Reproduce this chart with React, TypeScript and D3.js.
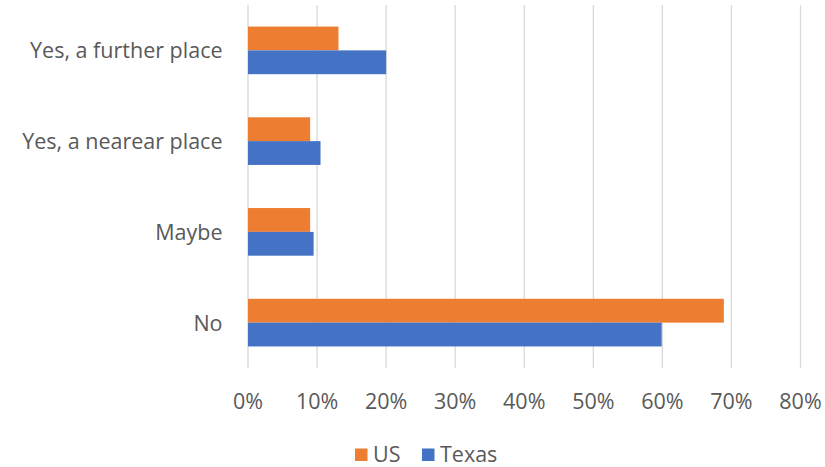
import React from "react";
import * as d3 from "d3";

const categories = ["Yes, a further place", "Yes, a nearear place", "Maybe", "No"];
const seriesNames = ["US", "Texas"];
const usValues = [0.131, 0.09, 0.09, 0.689];
const texasValues = [0.2, 0.105, 0.095, 0.599];
const xTicks = [0, 0.1, 0.2, 0.3, 0.4, 0.5, 0.6, 0.7, 0.8];
const colors = ["#ED7D31", "#4472C4"];

const W = 825;
const H = 467;
const left = 248;
const right = 800.5;
const top = 5;
const bottom = 368;
const font = "'Open Sans', 'Noto Sans', sans-serif";

export default function App() {
  const x = d3.scaleLinear().domain([0, 0.8]).range([left, right]);
  const y = d3.scaleBand<string>().domain(categories).range([top, bottom]).paddingInner(0.475).paddingOuter(0.2375);
  const inner = d3.scaleBand<string>().domain(seriesNames).range([0, y.bandwidth()]);
  const series = [usValues, texasValues];
  const fmt = d3.format(".0%");

  return (
    <svg width={W} height={H} style={{ position: "absolute", left: 0, top: 0, background: "#fff" }} fontFamily={font}>
      {xTicks.map((t) => (
        <line key={"g" + t} x1={x(t)} x2={x(t)} y1={top} y2={bottom} stroke="#D9D9D9" strokeWidth={1.3} />
      ))}
      {categories.map((c, i) =>
        seriesNames.map((s, j) => (
          <rect
            key={c + s}
            x={x(0)}
            y={(y(c) as number) + (inner(s) as number)}
            width={x(series[j][i]) - x(0)}
            height={inner.bandwidth()}
            fill={colors[j]}
          />
        ))
      )}
      {xTicks.map((t) => (
        <text key={"t" + t} x={x(t)} y={408.5} textAnchor="middle" fontSize={21.5} fill="#595959">
          {fmt(t)}
        </text>
      ))}
      {categories.map((c) => (
        <text key={"c" + c} x={222.5} y={(y(c) as number) + y.bandwidth() / 2 + 8} textAnchor="end" fontSize={21.5} fill="#595959">
          {c}
        </text>
      ))}
      {seriesNames.map((s, j) => {
        const lx = j === 0 ? 355 : 422;
        return (
          <g key={"l" + s}>
            <rect x={lx} y={448.5} width={12.5} height={12.5} fill={colors[j]} />
            <text x={lx + 18} y={461.5} fontSize={21.5} fill="#595959">
              {s}
            </text>
          </g>
        );
      })}
    </svg>
  );
}
